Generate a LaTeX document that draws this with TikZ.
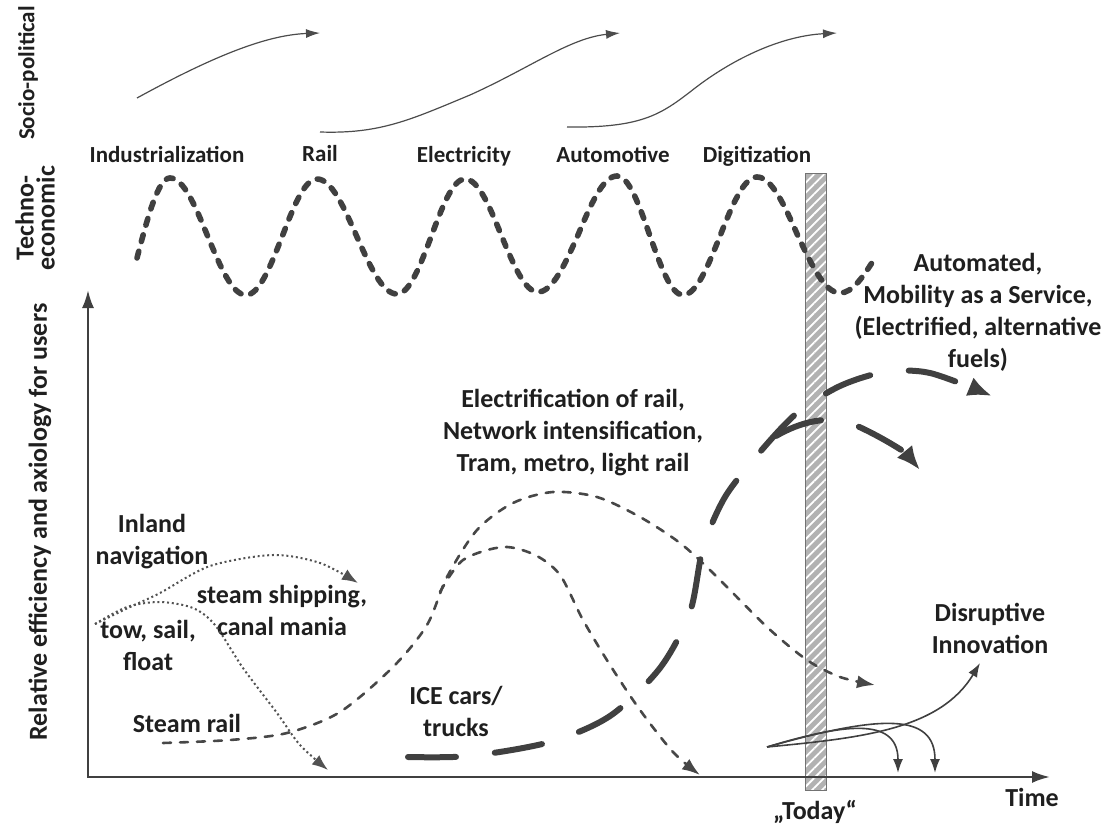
\documentclass[tikz,border=0pt]{standalone}
\usepackage{fontspec}
\setmainfont{Carlito}
\usetikzlibrary{arrows.meta,patterns.meta}

\begin{document}
\begin{tikzpicture}[x=0.5pt,y=-0.5pt,
  lbl/.style={font=\fontsize{13}{16}\selectfont\bfseries, text=black!88, align=center, inner sep=0pt},
  toplbl/.style={font=\fontsize{11.5}{13}\selectfont\bfseries, text=black!88, inner sep=0pt, anchor=base},
  sidelbl/.style={font=\fontsize{11.5}{10}\selectfont\bfseries, text=black!88, align=center, rotate=90, inner sep=0pt},
  axis/.style={line width=1.2pt, draw=black!75, {Latex[length=9pt,width=6pt]}-{Latex[length=9pt,width=6pt]}},
  socio/.style={line width=0.6pt, draw=black!70, -{Latex[length=7pt,width=4.5pt]}},
  wave/.style={line width=2.8pt, draw=black!75, line cap=round, dash pattern=on 3.5pt off 5pt},
  ice/.style={line width=3pt, draw=black!75, line cap=round, dash pattern=on 24pt off 19.5pt, -{Latex[length=12pt,width=10pt]}},
  rail/.style={line width=1.3pt, draw=black!72, line cap=round, dash pattern=on 4pt off 4.5pt, -{Latex[length=9pt,width=6.5pt]}},
  ship/.style={line width=1pt, draw=black!68, dash pattern=on 1pt off 1.4pt, -{Latex[length=8pt,width=6pt]}},
  disrupt/.style={line width=0.8pt, draw=black!75, -{Latex[length=7pt,width=5pt]}},
]
\useasboundingbox (0,0) rectangle (1110,830);

% "Today" bar
\fill[black!30] (805,173) rectangle (826,790);
\fill[pattern={Lines[angle=45,distance=3.5pt,line width=0.9pt]}, pattern color=white] (805,173) rectangle (826,790);
\draw[black!55, line width=0.5pt] (805,173) rectangle (826,790);

% side labels
\node[sidelbl] (soc) at (28,73) {Socio-political};
\node[sidelbl, font=\fontsize{13}{10.5}\selectfont\bfseries] (tec) at (35,218) {Techno-\\economic};
\node[sidelbl, font=\fontsize{13}{16}\selectfont\bfseries] (ylab) at (40,522) {Relative efficiency and axiology for users};

% socio-political arrows
\draw[socio] (137,98) .. controls (210,58) and (265,35) .. (320,33);
\draw[socio] (320,132) .. controls (380,134) and (410,120) .. (470,95) .. controls (530,68) and (570,38) .. (620,33);
\draw[socio] (567,127) .. controls (640,128) and (660,115) .. (690,92) .. controls (730,60) and (780,36) .. (837,33);

% techno-economic waves
\node[toplbl] (ind) at (167,162) {Industrialization};
\node[toplbl] (rail) at (320,161) {Rail};
\node[toplbl] (elec) at (464,162) {Electricity};
\node[toplbl] (auto) at (613,162) {Automotive};
\node[toplbl] (digi) at (757,162) {Digitization};
\draw[wave] (137,258) sin (170,178) cos (208,237) sin (246,295) cos (282,237) sin (317,179)
  cos (357,237) sin (397,294) cos (431,237) sin (465,179) cos (502,237) sin (538,292)
  cos (578,235) sin (617,176) cos (650,236) sin (683,295) cos (720,236) sin (757,177)
  cos (798,236) sin (840,293) cos (875,258);

% axes
\coordinate (origin) at (88,777);
\coordinate (ytop) at (88,290);
\coordinate (xend) at (1050,777);
\draw[axis] (ytop) -- (origin) -- (xend);
\node[lbl] (time) at (1032,797) {Time};
\node[lbl] (today) at (815,812) {„Today“};

% inland navigation
\node[lbl] (inland) at (152,542) {Inland\\navigation};
\node[lbl] (tow) at (148,645) {tow, sail,\\float};
\node[lbl] (steam) at (282,610) {steam shipping,\\canal mania};
\draw[ship] plot[smooth] coordinates {(95,624) (130,607) (160,593) (210,566) (273,555) (320,563) (358,583)};
\draw[ship] plot[smooth] coordinates {(95,624) (127,607) (160,602) (193,608) (215,625) (243,668) (277,713) (300,745) (328,770)};

% rail
\node[lbl] (srail) at (187,723) {Steam rail};
\node[lbl] (erail) at (573,433) {Electrification of rail,\\Network intensification,\\Tram, metro, light rail};
\draw[rail] plot[smooth] coordinates {(163,743) (230,740) (287,733) (340,712) (393,667) (427,625) (447,577)
  (477,530) (513,503) (553,492) (597,497) (640,517) (680,543) (713,573) (767,627) (807,660) (840,677) (875,685)};
\draw[rail] plot[smooth] coordinates {(440,592) (463,560) (503,547) (535,555) (560,575) (583,620)
  (610,665) (640,710) (673,752) (700,775)};

% road
\node[lbl] (ice) at (456,711) {ICE cars/\\trucks};
\node[lbl] (maas) at (978,312) {Automated,\\Mobility as a Service,\\(Electrified, alternative\\fuels)};
\draw[ice] plot[smooth] coordinates {(408,757) (470,756) (550,742) (610,716) (660,668) (690,612) (703,548)
  (725,497) (760,452) (797,413) (840,386) (885,372) (930,373) (992,396)};
\draw[ice] (776,436) .. controls (800,422) and (830,414) .. (855,425) .. controls (880,436) and (905,452) .. (920,470);

% disruptive innovation
\node[lbl] (disr) at (990,628) {Disruptive\\Innovation};
\coordinate (dstart) at (767,747);
\draw[disrupt] (dstart) .. controls (860,738) and (940,730) .. (980,663);
\draw[disrupt] (dstart) .. controls (840,725) and (898,715) .. (898,773);
\draw[disrupt] (dstart) .. controls (880,715) and (935,712) .. (935,773);
\end{tikzpicture}
\end{document}
